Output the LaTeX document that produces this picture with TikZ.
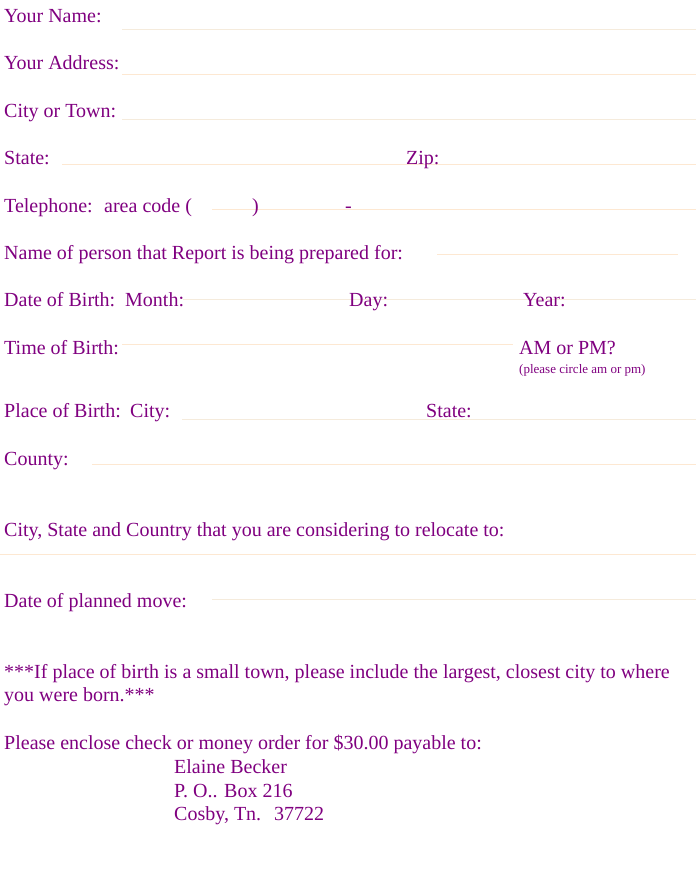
\documentclass[tikz,border=0pt]{standalone}
\usepackage{fontspec}
\setmainfont{Liberation Serif}
\definecolor{formpurple}{RGB}{128,0,128}
\definecolor{lineA}{RGB}{245,235,220}
\definecolor{lineB}{RGB}{253,232,210}
\begin{document}
\begin{tikzpicture}[x=1pt,y=-1pt,
  lbl/.style={anchor=base west, inner sep=0pt, text=formpurple, font=\fontsize{20}{23}\selectfont},
  small/.style={anchor=base west, inner sep=0pt, text=formpurple, font=\fontsize{13}{15}\selectfont},
  rule/.style={line width=1pt},
]
\useasboundingbox[fill=white] (0,0) rectangle (696,875);
% lines
\draw[rule,lineA] (122,29.5) -- (696,29.5);
\draw[rule,lineB] (122,74.5) -- (696,74.5);
\draw[rule,lineA] (122,119.5) -- (696,119.5);
\draw[rule,lineB] (62,164.5) -- (696,164.5);
\draw[rule,lineB] (212,209.5) -- (696,209.5);
\draw[rule,lineB] (437,254.5) -- (678,254.5);
\draw[rule,lineA] (183,299.5) -- (696,299.5);
\draw[rule,lineB] (122,344.5) -- (513,344.5);
\draw[rule,lineA] (182,419.5) -- (696,419.5);
\draw[rule,lineB] (92,464.5) -- (696,464.5);
\draw[rule,lineB] (0,554.5) -- (696,554.5);
\draw[rule,lineA] (212,599.5) -- (696,599.5);
% texts
\node[lbl] (name) at (4,23) {Your Name:};
\node[lbl] (addr) at (4,70) {Your Address:};
\node[lbl] (city) at (4,117) {City or Town:};
\node[lbl] (state) at (4,164) {State:};
\node[lbl] (zip) at (406,164) {Zip:};
\node[lbl] (tel) at (4,212) {Telephone:};
\node[lbl] (area) at (104,212) {area code (};
\node[lbl] (paren) at (252,212) {)};
\node[lbl] (dash) at (345,212) {-};
\node[lbl] (person) at (4,259) {Name of person that Report is being prepared for:};
\node[lbl] (dob) at (4,306) {Date of Birth:};
\node[lbl] (month) at (125,306) {Month:};
\node[lbl] (day) at (349,306) {Day:};
\node[lbl] (year) at (523,306) {Year:};
\node[lbl] (tob) at (4,354) {Time of Birth:};
\node[lbl] (ampm) at (519,354) {AM or PM?};
\node[small] (circ) at (519,373) {(please circle am or pm)};
\node[lbl] (pob) at (4,417) {Place of Birth:};
\node[lbl] (pcity) at (130,417) {City:};
\node[lbl] (pstate) at (426,417) {State:};
\node[lbl] (county) at (4,465) {County:};
\node[lbl] (reloc) at (4,536) {City, State and Country that you are considering to relocate to:};
\node[lbl] (move) at (4,607) {Date of planned move:};
\node[lbl] (note1) at (4,678) {***If place of birth is a small town, please include the largest, closest city to where};
\node[lbl] (note2) at (4,701) {you were born.***};
\node[lbl] (pay) at (4,749) {Please enclose check or money order for \$30.00 payable to:};
\node[lbl] (addr1) at (174,773) {Elaine Becker};
\node[lbl] (addr2) at (174,797) {P. O.. Box 216};
\node[lbl] (addr3) at (174,820) {Cosby, Tn.};
\node[lbl] (zipc) at (274,820) {37722};
\end{tikzpicture}
\end{document}
